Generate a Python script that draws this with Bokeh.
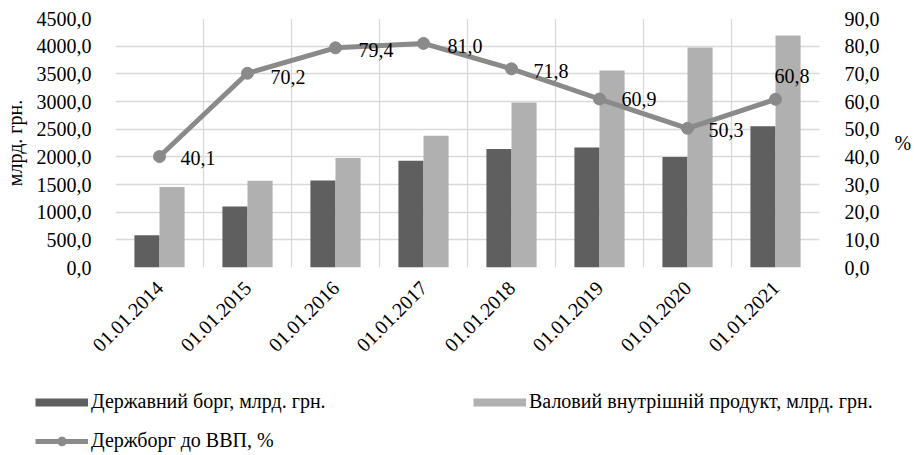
import math
from bokeh.plotting import figure
from bokeh.models import (ColumnDataSource, FactorRange, Range1d, LinearAxis, Legend,
                          LegendItem, LabelSet, FixedTicker)
from bokeh.transform import dodge
from bokeh.core.properties import value
from bokeh.embed import file_html
from bokeh.resources import INLINE

# ---- data ----
dates = ["01.01.2014", "01.01.2015", "01.01.2016", "01.01.2017",
         "01.01.2018", "01.01.2019", "01.01.2020", "01.01.2021"]
debt = [584.8, 1100.8, 1572.2, 1929.8, 2141.7, 2168.4, 1998.3, 2551.9]
gdp = [1454.9, 1566.7, 1979.5, 2383.2, 2982.9, 3558.7, 3974.6, 4194.1]
ratio = [40.1, 70.2, 79.4, 81.0, 71.8, 60.9, 50.3, 60.8]
left_ticks = [0, 500, 1000, 1500, 2000, 2500, 3000, 3500, 4000, 4500]
right_ticks = [0, 10, 20, 30, 40, 50, 60, 70, 80, 90]
series_names = ["Державний борг, млрд. грн.", "Валовий внутрішній продукт, млрд. грн.",
                "Держборг до ВВП, %"]
left_title = "млрд. грн."
right_title = "%"

# label placement (screen px offsets)
label_dx = [21, 23, 23, 24, 22, 22, 21, -1]
label_dy = [-1, -4, -2, -3, -2, 0, -2, 23]

FONT = "Liberation Serif"
FS = "20px"
DARK = "#5f5f5f"
LIGHT = "#b0b0b0"
LINE = "#8a8a8a"
GRID = "#d9d9d9"


def fmt(v):
    return f"{v:.1f}".replace(".", ",")


src = ColumnDataSource(data=dict(
    date=dates, debt=debt, gdp=gdp, ratio=ratio,
    ratio_lbl=[fmt(r) for r in ratio], dx=label_dx, dy=label_dy))

p = figure(width=914, height=370, x_range=FactorRange(*dates), y_range=Range1d(0, 4500),
           output_backend="svg", toolbar_location=None,
           min_border_left=111, min_border_right=86, min_border_top=18, min_border_bottom=103)
p.outline_line_color = None
p.background_fill_color = "white"
p.border_fill_color = "white"
p.extra_y_ranges = {"pct": Range1d(0, 90)}

# grids
p.ygrid.ticker = FixedTicker(ticks=left_ticks)
p.ygrid.grid_line_color = GRID
p.ygrid.grid_line_width = 1.3
p.xgrid.ticker = FixedTicker(ticks=list(range(len(dates) + 1)))
p.xgrid.grid_line_color = GRID
p.xgrid.grid_line_width = 1.3

# left axis
ya = p.yaxis[0]
ya.ticker = FixedTicker(ticks=left_ticks)
ya.major_label_overrides = {t: fmt(t) for t in left_ticks}
ya.axis_line_color = None
ya.major_tick_line_color = None
ya.minor_tick_line_color = None
ya.major_label_standoff = 18
ya.major_label_text_font = FONT
ya.major_label_text_font_size = FS
ya.major_label_text_color = "black"
ya.axis_label = left_title
ya.axis_label_text_font = FONT
ya.axis_label_text_font_size = FS
ya.axis_label_text_font_style = "normal"
ya.axis_label_text_color = "black"
ya.axis_label_standoff = 8

# right axis
ra = LinearAxis(y_range_name="pct", ticker=FixedTicker(ticks=right_ticks))
ra.major_label_overrides = {t: fmt(t) for t in right_ticks}
ra.axis_line_color = None
ra.major_tick_line_color = None
ra.minor_tick_line_color = None
ra.major_label_standoff = 19
ra.major_label_text_font = FONT
ra.major_label_text_font_size = FS
ra.major_label_text_color = "black"
ra.axis_label = right_title
ra.axis_label_text_font = FONT
ra.axis_label_text_font_size = FS
ra.axis_label_text_font_style = "normal"
ra.axis_label_text_color = "black"
ra.axis_label_standoff = 12
if "axis_label_orientation" in ra.properties():
    ra.axis_label_orientation = "horizontal"
p.add_layout(ra, "right")

# x axis
xa = p.xaxis[0]
xa.major_label_orientation = math.pi / 4
xa.axis_line_color = None
xa.major_tick_line_color = None
xa.minor_tick_line_color = None
xa.major_label_standoff = 11
xa.major_label_text_font = FONT
xa.major_label_text_font_size = FS
xa.major_label_text_color = "black"

# bars
bw = 0.285
p.vbar(x=dodge("date", -bw / 2, range=p.x_range), top="debt", width=bw, source=src,
       fill_color=DARK, line_color=None)
p.vbar(x=dodge("date", bw / 2, range=p.x_range), top="gdp", width=bw, source=src,
       fill_color=LIGHT, line_color=None)

# line
p.line(x="date", y="ratio", source=src, y_range_name="pct", line_color=LINE, line_width=5)
p.scatter(x="date", y="ratio", source=src, y_range_name="pct", size=12,
          fill_color=LINE, line_color=LINE)

labels = LabelSet(x="date", y="ratio", text="ratio_lbl", source=src, y_range_name="pct",
                  x_offset="dx", y_offset="dy", text_align="left", text_baseline="middle",
                  text_font=value(FONT), text_font_size=FS, text_color="black")
p.add_layout(labels)

# ---- legend strip: a second root below the chart ----
lp = figure(width=914, height=85, output_backend="svg", toolbar_location=None,
            x_axis_type=None, y_axis_type=None, x_range=Range1d(0, 1), y_range=Range1d(0, 1),
            min_border=0, min_border_left=0, min_border_right=0,
            min_border_top=0, min_border_bottom=0)
lp.outline_line_color = None
lp.xgrid.visible = False
lp.ygrid.visible = False
lp.background_fill_color = "white"
lp.border_fill_color = "white"

# swatch renderers fed from the same series (their points fall outside this strip's ranges)
sw1 = lp.line(x="debt", y="debt", source=src, line_color=DARK, line_width=8)
sw2 = lp.line(x="gdp", y="gdp", source=src, line_color=LIGHT, line_width=8)
sw3 = lp.line(x="ratio", y="ratio", source=src, line_color=LINE, line_width=5)
sw4 = lp.scatter(x="ratio", y="ratio", source=src, fill_color=LINE, line_color=LINE)


def make_legend(items, loc):
    lg = Legend(items=items, location=loc, padding=0, margin=0, spacing=0,
                border_line_color=None, background_fill_alpha=0,
                glyph_width=53, glyph_height=22, label_height=22, label_standoff=3,
                label_text_font=FONT, label_text_font_size=FS, label_text_color="black")
    lp.add_layout(lg, "center")
    return lg


make_legend([LegendItem(label=series_names[0], renderers=[sw1])], (35, 42))
make_legend([LegendItem(label=series_names[1], renderers=[sw2])], (473, 42))
make_legend([LegendItem(label=series_names[2], renderers=[sw3, sw4])], (35, 3))

open("out.html", "w").write(file_html([p, lp], INLINE))
